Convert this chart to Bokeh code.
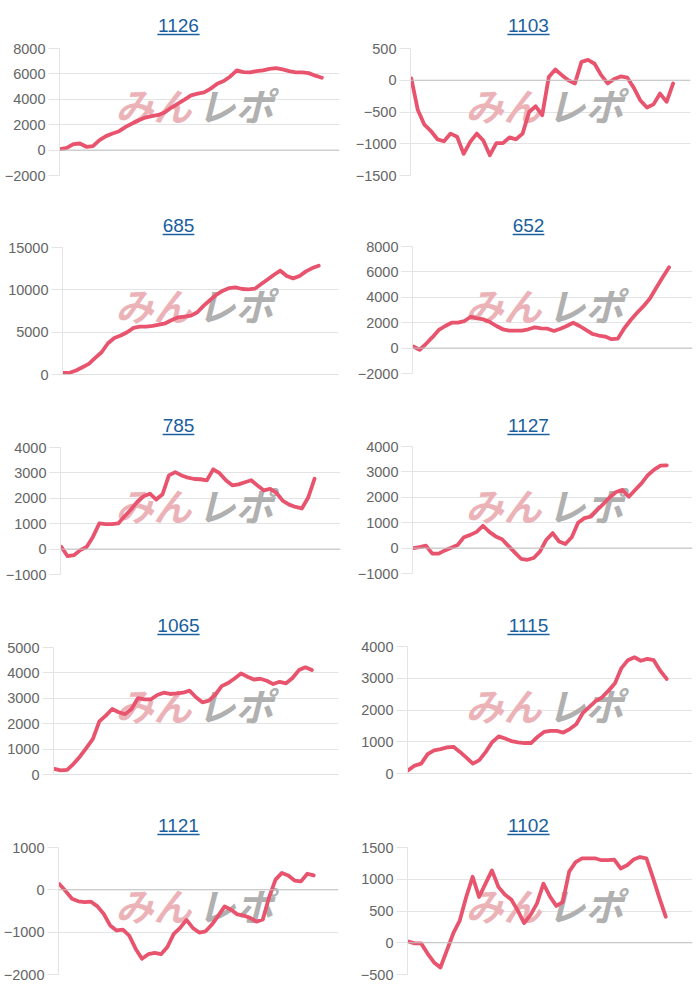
from bokeh.plotting import figure
from bokeh.layouts import column, row
from bokeh.models import Range1d, FixedTicker, Span
from bokeh.core.properties import value
from bokeh.embed import file_html
from bokeh.resources import INLINE

# ---------------- data ----------------
titles = ["1126", "1103", "685", "652", "785", "1127", "1065", "1115", "1121", "1102"]

s1126 = [80, 180, 470, 520, 260, 310, 780, 1100, 1310, 1490, 1830, 2090, 2350, 2560, 2670,
         2770, 2980, 3350, 3660, 3970, 4310, 4440, 4550, 4840, 5230, 5440, 5800, 6280, 6140,
         6120, 6220, 6280, 6400, 6460, 6350, 6220, 6120, 6120, 6060, 5860, 5700]
s1103 = [30, -470, -700, -800, -930, -960, -840, -890, -1160, -970, -840, -950, -1180, -990,
         -990, -900, -930, -840, -500, -410, -550, 50, 170, 80, 0, -50, 290, 320, 260, 80,
         -50, 20, 60, 40, -120, -320, -430, -380, -210, -340, -50]
s685 = [200, 200, 470, 860, 1260, 1960, 2630, 3690, 4320, 4600, 4990, 5500, 5660, 5660, 5740,
        5890, 6050, 6440, 6760, 6840, 6950, 7350, 8130, 8800, 9430, 9900, 10210, 10290, 10100,
        10060, 10130, 10680, 11230, 11780, 12260, 11630, 11350, 11630, 12180, 12570, 12850]
s652 = [130, -130, 340, 860, 1430, 1740, 2000, 2000, 2130, 2470, 2340, 2260, 2050, 1740, 1480,
        1380, 1380, 1380, 1480, 1640, 1560, 1530, 1350, 1530, 1740, 2000, 1740, 1430, 1120,
        990, 910, 700, 750, 1560, 2210, 2780, 3300, 3900, 4750, 5580, 6360]
s785 = [90, -280, -240, -40, 80, 480, 1010, 980, 980, 1010, 1290, 1560, 1860, 2080, 2180, 1950,
        2160, 2900, 3030, 2900, 2810, 2760, 2750, 2710, 3140, 2990, 2710, 2510, 2550, 2630,
        2710, 2500, 2310, 2370, 2210, 1900, 1750, 1660, 1600, 2030, 2770]
s1127 = [0, 40, 100, -220, -220, -90, 10, 120, 430, 520, 640, 880, 640, 460, 350, 90, -170,
         -420, -460, -390, -130, 330, 590, 260, 160, 430, 1000, 1180, 1240, 1500, 1740, 2000,
         2210, 2290, 2020, 2290, 2550, 2870, 3090, 3250, 3260]
s1065 = [220, 160, 180, 420, 710, 1050, 1400, 2090, 2320, 2580, 2450, 2380, 2580, 3010, 2960,
         2960, 3130, 3220, 3170, 3190, 3220, 3300, 3040, 2840, 2910, 3140, 3480, 3600, 3780,
         3980, 3850, 3740, 3770, 3690, 3560, 3650, 3590, 3800, 4110, 4220, 4110]
s1115 = [100, 250, 310, 610, 730, 770, 820, 840, 680, 500, 310, 420, 680, 990, 1170, 1100, 1020,
         980, 960, 960, 1150, 1310, 1340, 1340, 1290, 1400, 1550, 1900, 2090, 2280, 2400, 2610,
         2840, 3320, 3570, 3660, 3550, 3610, 3570, 3240, 2980]
s1121 = [140, -30, -210, -270, -290, -280, -390, -570, -840, -960, -940, -1080, -1390, -1630,
         -1520, -1490, -1520, -1350, -1040, -900, -710, -900, -1010, -980, -820, -610, -390,
         -470, -580, -610, -660, -750, -700, -170, 240, 400, 340, 220, 200, 380, 340]
s1102 = [20, -10, -10, -170, -310, -390, -120, 150, 350, 720, 1040, 720, 930, 1140, 880, 760,
         680, 510, 310, 440, 620, 930, 730, 580, 640, 1120, 1270, 1330, 1330, 1330, 1300, 1300,
         1310, 1170, 1220, 1310, 1350, 1330, 1030, 710, 410]

series = [s1126, s1103, s685, s652, s785, s1127, s1065, s1115, s1121, s1102]

yticks = [
    [-2000, 0, 2000, 4000, 6000, 8000],
    [-1500, -1000, -500, 0, 500],
    [0, 5000, 10000, 15000],
    [-2000, 0, 2000, 4000, 6000, 8000],
    [-1000, 0, 1000, 2000, 3000, 4000],
    [-1000, 0, 1000, 2000, 3000, 4000],
    [0, 1000, 2000, 3000, 4000, 5000],
    [0, 1000, 2000, 3000, 4000],
    [-2000, -1000, 0, 1000],
    [-500, 0, 500, 1000, 1500],
]

# ---------------- layout / style ----------------
CELL_W, CELL_H, TITLE_H = 350, 200, 40
frame_left = [59, 60, 62, 62, 60, 62, 53, 57, 58, 57]
frame_right = [339, 340, 338, 342, 340, 342, 338, 342, 338, 342]
frame_top = [48, 48, 47, 46, 47, 46, 47, 46, 47, 47]
frame_bottom = [175, 175, 174, 173, 174, 173, 174, 173, 174, 174]
x_end = [42.7, 42.65, 43.1, 43.66, 44.1, 44.05, 44.14, 44.0, 43.9, 44.16]
x_start = -0.12

LINE = "#e8536d"
GRID = "#e4e4e4"
ZERO = "#c2c2c2"
TICK_TXT = "#666666"
TITLE_CLR = "#1a5f9e"
WM_PINK = "#ebb3b8"
WM_GRAY = "#b0b0b0"


def make_cell(i):
    vals = series[i]
    xs = list(range(len(vals)))
    yt = yticks[i]
    L, R, T, B = frame_left[i], frame_right[i], frame_top[i], frame_bottom[i]

    # title strip: frame spans the same columns as the chart below; data units = cell pixels
    tf = figure(width=CELL_W, height=TITLE_H, x_range=Range1d(L, R),
                y_range=Range1d(0, TITLE_H), output_backend="svg",
                toolbar_location=None, x_axis_location=None, y_axis_location=None,
                min_border_left=L, min_border_right=CELL_W - R,
                min_border_top=0, min_border_bottom=0)
    tf.outline_line_color = None
    tf.border_fill_color = "white"
    tf.grid.visible = False
    tcx = 178
    tf.text(x=[tcx], y=[TITLE_H - 25], text=[titles[i]],
            text_font=value("Liberation Sans"), text_font_size="19px",
            text_color=TITLE_CLR, text_align="center", text_baseline="middle")
    half = len(titles[i]) * 0.556 * 19 / 2
    tf.segment(x0=[tcx - half], y0=[TITLE_H - 34], x1=[tcx + half], y1=[TITLE_H - 34],
               line_color=TITLE_CLR, line_width=1.3)

    # chart
    x0, x1 = x_start, x_end[i]
    y0, y1 = min(yt), max(yt)
    p = figure(width=CELL_W, height=CELL_H - TITLE_H,
               x_range=Range1d(x0, x1), y_range=Range1d(y0, y1),
               output_backend="svg", toolbar_location=None, x_axis_location=None,
               min_border_left=L, min_border_right=CELL_W - R,
               min_border_top=T - TITLE_H, min_border_bottom=CELL_H - B)
    p.outline_line_color = None
    p.border_fill_color = "white"
    p.xgrid.visible = False
    p.yaxis.ticker = FixedTicker(ticks=yt)
    p.ygrid.grid_line_color = GRID
    p.ygrid.grid_line_width = 1
    p.yaxis.axis_line_color = GRID
    p.yaxis.major_tick_out = 11
    p.yaxis.major_tick_in = 0
    p.yaxis.minor_tick_out = 0
    p.yaxis.minor_tick_in = 0
    p.yaxis.major_tick_line_color = GRID
    p.yaxis.major_label_standoff = 3
    p.yaxis.major_label_text_font = "Liberation Sans"
    p.yaxis.major_label_text_font_size = "14.5px"
    p.yaxis.major_label_text_color = TICK_TXT

    p.add_layout(Span(location=0, dimension="width", line_color=ZERO, line_width=1))

    # watermark (pixel position in the cell -> data coords)
    def dx(px):
        return x0 + (px - L) / (R - L) * (x1 - x0)

    def dy(py):
        return y1 - (py - T) / (B - T) * (y1 - y0)

    p.text(x=[dx(153)], y=[dy(104)], text=["みん"], text_font=value("Noto Sans CJK JP"),
           text_font_style="bold italic", text_font_size="38px", text_color=WM_PINK,
           text_align="center", text_baseline="middle")
    p.text(x=[dx(235)], y=[dy(104)], text=["レポ"], text_font=value("Noto Sans CJK JP"),
           text_font_style="bold italic", text_font_size="38px", text_color=WM_GRAY,
           text_align="center", text_baseline="middle")

    p.line(xs, vals, line_color=LINE, line_width=3.8, line_join="round", line_cap="round")
    return column(tf, p)


rows = [row(make_cell(2 * r), make_cell(2 * r + 1)) for r in range(5)]
layout = column(*rows)

open("out.html", "w").write(file_html(layout, INLINE))
